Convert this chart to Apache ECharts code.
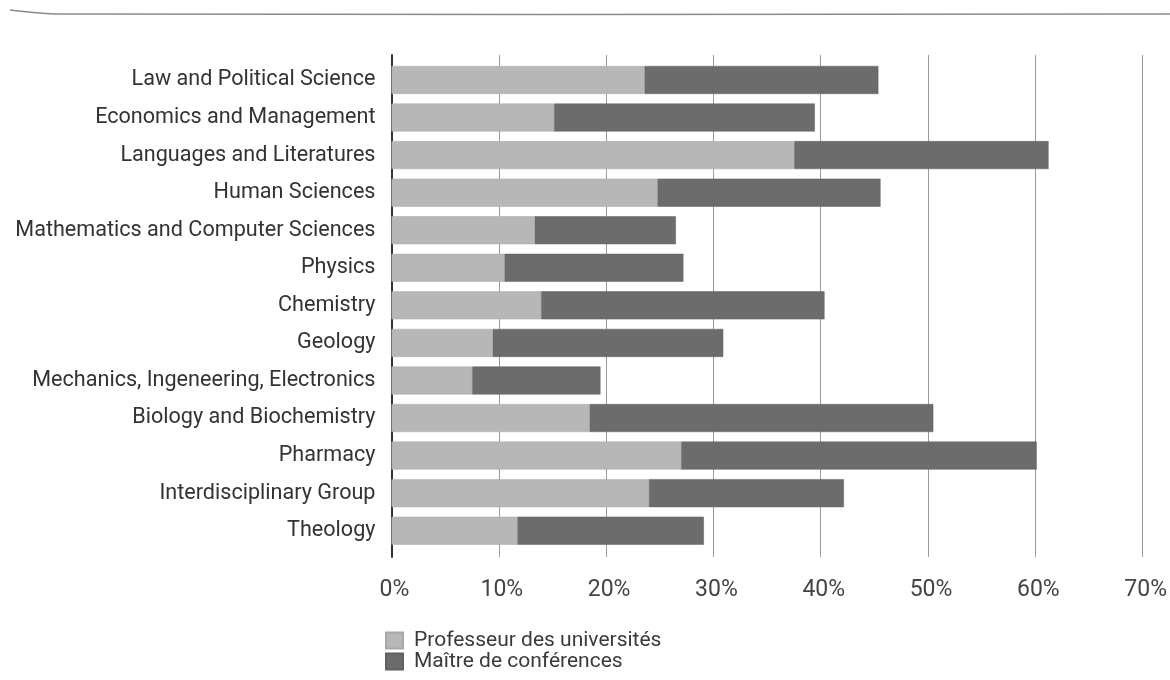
<!DOCTYPE html>
<html>
<head>
<meta charset="utf-8">
<script src="https://cdn.jsdelivr.net/npm/echarts@6/dist/echarts.min.js"></script>
<style>
html,body{margin:0;padding:0;background:#fff;}
#chart{width:1170px;height:680px;}
</style>
</head>
<body>
<div id="chart"></div>
<script>
const categories = [
  "Law and Political Science",
  "Economics and Management",
  "Languages and Literatures",
  "Human Sciences",
  "Mathematics and Computer Sciences",
  "Physics",
  "Chemistry",
  "Geology",
  "Mechanics, Ingeneering, Electronics",
  "Biology and Biochemistry",
  "Pharmacy",
  "Interdisciplinary Group",
  "Theology"
];
const professeurs = [23.5, 15.1, 37.4, 24.7, 13.3, 10.5, 13.9, 9.4, 7.5, 18.4, 26.9, 23.9, 11.7];
const maitres = [21.7, 24.2, 23.6, 20.7, 13.1, 16.6, 26.3, 21.4, 11.9, 31.9, 33.0, 18.1, 17.3];
const seriesNames = ["Professeur des universités", "Maître de conférences"];
const xTicks = [0, 10, 20, 30, 40, 50, 60, 70];

const FONT = "'Roboto', 'Liberation Sans', sans-serif";
const chart = echarts.init(document.getElementById('chart'));
chart.setOption({
  backgroundColor: '#ffffff',
  animation: false,
  textStyle: { fontFamily: FONT },
  graphic: [{
    type: 'polyline',
    shape: { points: [[10, 10], [60, 14], [1170, 14]], smooth: 0.3 },
    style: { stroke: '#8a8a8a', lineWidth: 1.5, fill: null }
  }],
  legend: {
    orient: 'vertical',
    left: 380,
    top: 625,
    itemWidth: 17,
    itemHeight: 16,
    itemGap: 0,
    icon: 'rect',
    data: seriesNames,
    textStyle: { fontFamily: FONT, fontSize: 21, lineHeight: 20, color: '#3a3a3a', padding: [0, 0, 0, 6] }
  },
  grid: [
    { left: 391.5, right: 24.5, top: 55, height: 502 },
    { left: 391.5, right: 24.5, top: 61.2, height: 488.3 }
  ],
  xAxis: [
    {
      gridIndex: 0, type: 'value', min: xTicks[0], max: xTicks[xTicks.length - 1], interval: 10,
      axisLine: { show: false }, axisTick: { show: false },
      axisLabel: { formatter: '{value}%', fontFamily: FONT, fontSize: 23, color: '#444', margin: 22, padding: [0, 0, 0, 6] },
      splitLine: { show: true, lineStyle: { color: '#9a9a9a', width: 1 } }
    },
    {
      gridIndex: 1, type: 'value', min: xTicks[0], max: xTicks[xTicks.length - 1], interval: 10,
      show: false
    }
  ],
  yAxis: [
    {
      gridIndex: 0, type: 'category', data: categories, inverse: true,
      axisLine: { show: true, lineStyle: { color: '#333', width: 2 } },
      axisTick: { show: false }, axisLabel: { show: false }, splitLine: { show: false }
    },
    {
      gridIndex: 1, type: 'category', data: categories, inverse: true,
      axisLine: { show: false }, axisTick: { show: false },
      axisLabel: { fontFamily: FONT, fontSize: 21.6, color: '#333', margin: 16 },
      splitLine: { show: false }
    }
  ],
  series: [
    {
      name: seriesNames[0], type: 'bar', stack: 'total', xAxisIndex: 1, yAxisIndex: 1,
      data: professeurs, barWidth: 28,
      itemStyle: { color: '#b7b7b7', borderColor: '#a8a8a8', borderWidth: 0.5 }
    },
    {
      name: seriesNames[1], type: 'bar', stack: 'total', xAxisIndex: 1, yAxisIndex: 1,
      data: maitres, barWidth: 28,
      itemStyle: { color: '#6c6c6c', borderColor: '#606060', borderWidth: 0.5 }
    }
  ]
});
</script>
</body>
</html>
